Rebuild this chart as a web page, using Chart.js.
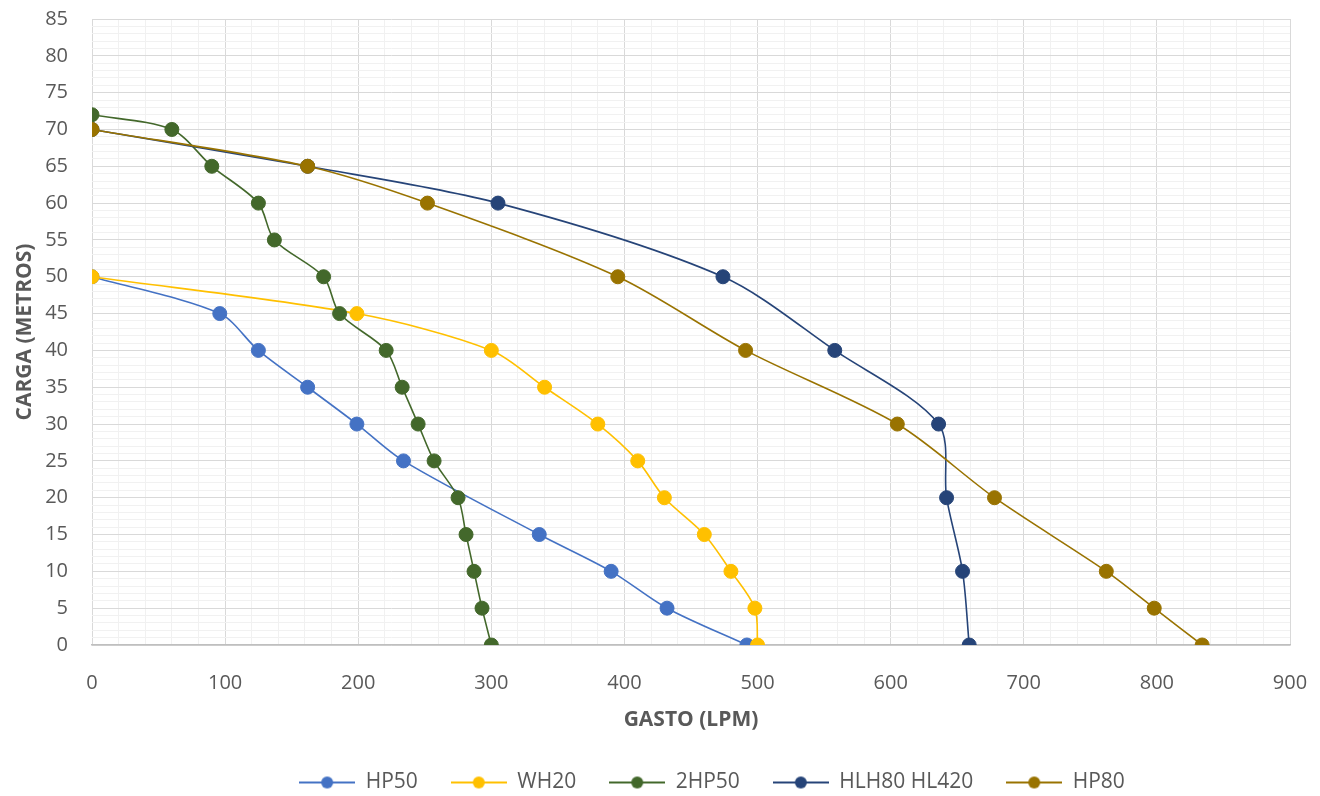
<!DOCTYPE html>
<html>
<head>
<meta charset="utf-8">
<script src="https://cdn.jsdelivr.net/npm/chart.js@4.4.0/dist/chart.umd.min.js"></script>
<style>
  html, body { margin: 0; padding: 0; background: #fff; overflow: hidden; }
  #wrap { width: 1320px; height: 800px; }
</style>
</head>
<body>
<div id="wrap"><canvas id="grafico"></canvas></div>
<script>
// Curvas de bombas: gasto (LPM) x carga (metros)
const series = ["HP50", "WH20", "2HP50", "HLH80 HL420", "HP80"];
const cores = ["#4472C4", "#FFC000", "#43682B", "#264478", "#997300"];

const hp50Gasto = [0, 96, 125, 162, 199, 234, 336, 390, 432, 492];
const hp50Carga = [50, 45, 40, 35, 30, 25, 15, 10, 5, 0];

const wh20Gasto = [0, 199, 300, 340, 380, 410, 430, 460, 480, 498, 500];
const wh20Carga = [50, 45, 40, 35, 30, 25, 20, 15, 10, 5, 0];

const hp50x2Gasto = [0, 60, 90, 125, 137, 174, 186, 221, 233, 245, 257, 275, 281, 287, 293, 300];
const hp50x2Carga = [72, 70, 65, 60, 55, 50, 45, 40, 35, 30, 25, 20, 15, 10, 5, 0];

const hlh80Gasto = [0, 162, 305, 474, 558, 636, 642, 654, 659];
const hlh80Carga = [70, 65, 60, 50, 40, 30, 20, 10, 0];

const hp80Gasto = [0, 162, 252, 395, 491, 605, 678, 762, 798, 834];
const hp80Carga = [70, 65, 60, 50, 40, 30, 20, 10, 5, 0];

const gastos = [hp50Gasto, wh20Gasto, hp50x2Gasto, hlh80Gasto, hp80Gasto];
const cargas = [hp50Carga, wh20Carga, hp50x2Carga, hlh80Carga, hp80Carga];

const corTexto = "#595959";
const fonte = "'Open Sans', 'Liberation Sans', sans-serif";

// simbolo da legenda: linha com bolinha no meio
function simboloLegenda(cor) {
    const c = document.createElement("canvas");
    c.width = 56; c.height = 16;
    const g = c.getContext("2d");
    g.strokeStyle = cor;
    g.lineWidth = 2;
    g.beginPath(); g.moveTo(0, 8); g.lineTo(56, 8); g.stroke();
    g.fillStyle = cor;
    g.beginPath(); g.arc(28, 8, 6, 0, Math.PI * 2); g.fill();
    return c;
}
const simbolos = cores.map(simboloLegenda);

const datasets = series.map((nome, i) => ({
    label: nome,
    data: gastos[i].map((x, k) => ({ x: x, y: cargas[i][k] })),
    showLine: true,
    borderColor: cores[i],
    backgroundColor: cores[i],
    borderWidth: 1.6,
    pointRadius: 7,
    pointHoverRadius: 7,
    pointBorderWidth: 1,
    tension: 0.3,
    order: series.length - i
}));

// a legenda no original fica um pouco deslocada para a direita e para baixo
const deslocaLegenda = {
    id: "deslocaLegenda",
    afterLayout(chart) {
        if (!chart.legend) return;
        chart.legend.left += 48;
        chart.legend.right += 48;
        chart.legend.top += 3;
        chart.legend.bottom += 3;
    }
};

new Chart(document.getElementById("grafico"), {
    type: "scatter",
    data: { datasets: datasets },
    plugins: [deslocaLegenda],
    options: {
        responsive: true,
        maintainAspectRatio: false,
        animation: false,
        layout: { padding: { top: 4, right: 0, left: 8, bottom: 0 } },
        plugins: {
            tooltip: { enabled: false },
            legend: {
                position: "bottom",
                labels: {
                    usePointStyle: true,
                    pointStyleWidth: 56,
                    padding: 33,
                    color: corTexto,
                    font: { family: fonte, size: 21, lineHeight: 1.0 },
                    sort: (a, b) => a.datasetIndex - b.datasetIndex,
                    generateLabels: (chart) => {
                        const itens = Chart.defaults.plugins.legend.labels.generateLabels(chart);
                        itens.forEach(it => { it.pointStyle = simbolos[it.datasetIndex]; });
                        return itens;
                    }
                }
            }
        },
        scales: {
            x: {
                type: "linear",
                min: 0, max: 900,
                afterFit: (s) => { s.height = 91; s.paddingRight = 30; },
                ticks: {
                    stepSize: 20,
                    autoSkip: false,
                    maxRotation: 0,
                    color: corTexto,
                    font: { family: fonte, size: 20 },
                    padding: 26,
                    callback: v => (v % 100 === 0 ? v : "")
                },
                grid: {
                    color: ctx => (ctx.tick && ctx.tick.value % 100 === 0 ? "#d9d9d9" : "#f1f1f1"),
                    drawTicks: false
                },
                border: { display: true, color: "#bfbfbf", width: 1.5 },
                title: {
                    display: true,
                    text: "GASTO (LPM)",
                    color: corTexto,
                    font: { family: fonte, size: 21, weight: "bold" },
                    padding: { top: 0, bottom: 3 }
                }
            },
            y: {
                min: 0, max: 85,
                afterFit: (s) => { s.width = 84; s.paddingTop = 19; },
                ticks: {
                    stepSize: 1,
                    autoSkip: false,
                    color: corTexto,
                    font: { family: fonte, size: 20 },
                    padding: 24,
                    callback: v => (v % 5 === 0 ? v : "")
                },
                grid: {
                    color: ctx => (ctx.tick && ctx.tick.value % 5 === 0 ? "#d9d9d9" : "#f1f1f1"),
                    drawTicks: false
                },
                border: { display: false },
                title: {
                    display: true,
                    text: "CARGA (METROS)",
                    color: corTexto,
                    font: { family: fonte, size: 21, weight: "bold" },
                    padding: { top: 4, bottom: 0 }
                }
            }
        }
    }
});
</script>
</body>
</html>
